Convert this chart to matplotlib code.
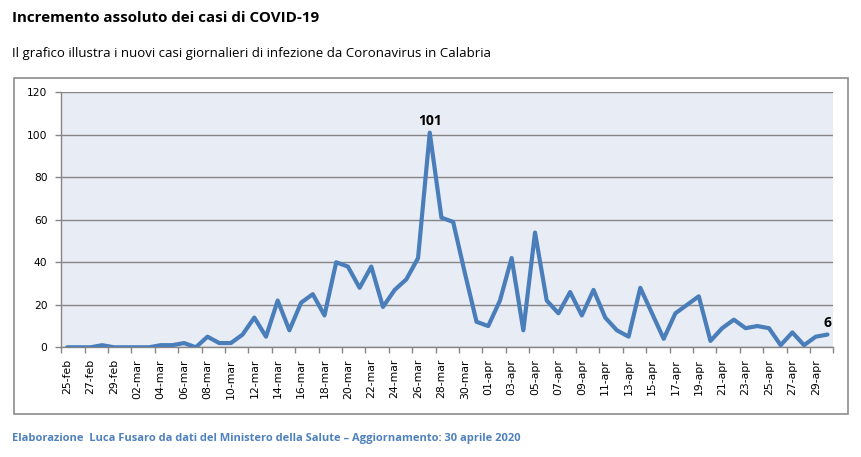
import matplotlib
matplotlib.use("Agg")
import matplotlib.pyplot as plt
from matplotlib.patches import Rectangle
import pandas as pd
import numpy as np

# ---- data ----
dates = pd.date_range("2020-02-25", "2020-04-30", freq="D")
month_abbr = {2: "feb", 3: "mar", 4: "apr"}
date_labels = [f"{d.day:02d}-{month_abbr[d.month]}" for d in dates]

new_cases = [0, 0, 0, 1, 0,
             0, 0, 0, 1, 1, 2, 0, 5, 2, 2, 6, 14, 5, 22, 8, 21, 25, 15, 40, 38,
             28, 38, 19, 27, 32, 42, 101, 61, 59, 35, 12,
             10, 22, 42, 8, 54, 22, 16, 26, 15, 27, 14, 8, 5, 28, 16, 4, 16, 20,
             24, 3, 9, 13, 9, 10, 9, 1, 7, 1, 5, 6]

y_ticks = [0, 20, 40, 60, 80, 100, 120]

title = "Incremento assoluto dei casi di COVID-19"
subtitle = "Il grafico illustra i nuovi casi giornalieri di infezione da Coronavirus in Calabria"
footer = "Elaborazione  Luca Fusaro da dati del Ministero della Salute \u2013 Aggiornamento: 30 aprile 2020"

# ---- style ----
line_color = "#4A7EBB"
bg_color = "#E8ECF4"
grid_color = "#868686"

W, H = 862, 457
fig = plt.figure(figsize=(W / 100, H / 100), dpi=100)

# outer chart frame
fig.patches.append(Rectangle((14.3 / W, 1 - 414 / H), (848 - 14.3) / W, (414 - 78.3) / H,
                             transform=fig.transFigure, fill=False,
                             edgecolor="#8C8C8C", linewidth=1.2))

ax = fig.add_axes([61.3 / W, 1 - 347.3 / H, (833.3 - 61.3) / W, (347.3 - 92.3) / H])
ax.set_facecolor(bg_color)

x = np.arange(len(new_cases))
ax.plot(x, new_cases, color=line_color, linewidth=3.0,
        solid_joinstyle="round", solid_capstyle="round", zorder=3)

ax.set_xlim(-0.5, len(new_cases) - 0.5)
ax.set_ylim(0, 120)
ax.set_yticks(y_ticks)
ax.set_yticklabels([str(v) for v in y_ticks], fontsize=7.7, family="DejaVu Sans")
ax.yaxis.grid(True, color=grid_color, linewidth=1.0)
ax.set_axisbelow(True)

# category axis: tick marks between categories every 2, labels at every other category
ax.set_xticks(np.arange(-0.5, len(new_cases), 2))
ax.set_xticklabels([])
ax.set_xticks(x[::2], minor=True)
ax.set_xticklabels(date_labels[::2], minor=True, rotation=90, fontsize=7.8,
                   family="DejaVu Sans")
ax.tick_params(axis="x", which="major", length=4.5, color=grid_color, width=1.0)
ax.tick_params(axis="x", which="minor", length=0, pad=8.5)
ax.tick_params(axis="y", length=4, color=grid_color, width=1.0, pad=6)

for side in ["top", "right"]:
    ax.spines[side].set_visible(False)
for side in ["left", "bottom"]:
    ax.spines[side].set_color(grid_color)
    ax.spines[side].set_linewidth(1.0)

# data labels for peak and last value
peak_i = int(np.argmax(new_cases))
for i in [peak_i, len(new_cases) - 1]:
    ax.annotate(str(new_cases[i]), (x[i], new_cases[i]), xytext=(0, 3.5),
                textcoords="offset points", ha="center", va="bottom",
                fontsize=10, fontweight="bold", family="Open Sans", color="black")

fig.text(12 / W, 1 - 18 / H, title, fontsize=10.9, fontweight="bold",
         family="Open Sans", va="center", ha="left")
fig.text(12 / W, 1 - 53 / H, subtitle, fontsize=9.55, family="Open Sans",
         va="center", ha="left")
fig.text(12 / W, 1 - 438 / H, footer, fontsize=8.0, fontweight="bold",
         family="Open Sans", color="#4F81BD", va="center", ha="left")

fig.savefig("out.png", dpi=100)
